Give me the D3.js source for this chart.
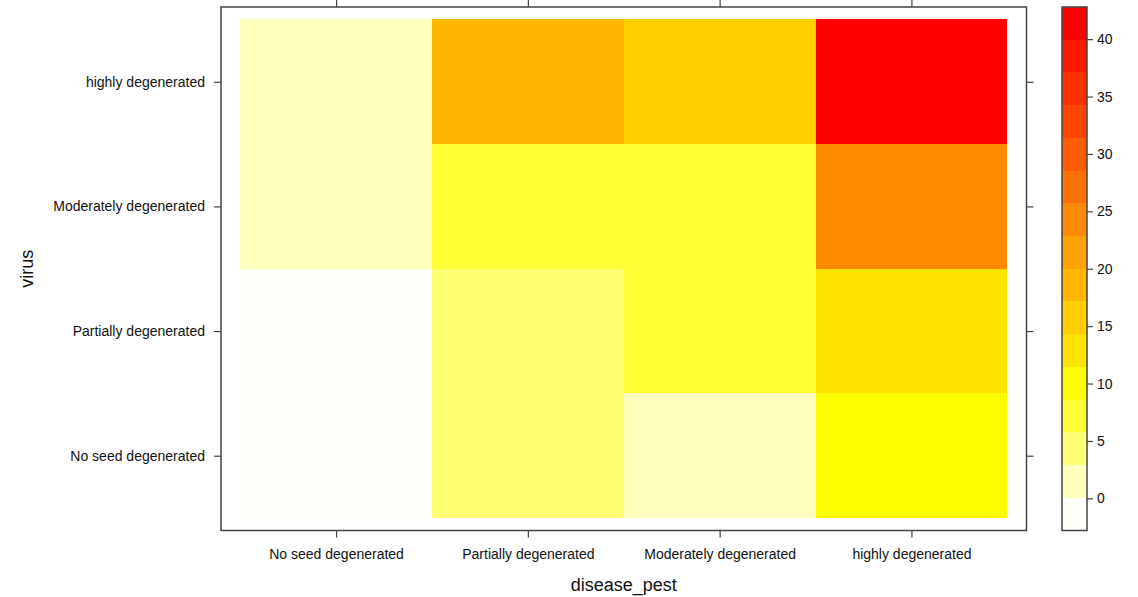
<!DOCTYPE html>
<html>
<head>
<meta charset="utf-8">
<script src="https://cdn.jsdelivr.net/npm/d3@7"></script>
<style>
  body { margin: 0; background: #fff; }
  text { font-family: "Liberation Sans", Arial, sans-serif; fill: #111; }
</style>
</head>
<body>
<svg class="heat" width="1138" height="597"></svg>
<script>
// categories (bottom to top for virus, left to right for disease_pest)
const diseaseLevels = ["No seed degenerated", "Partially degenerated", "Moderately degenerated", "highly degenerated"];
const virusLevels = ["No seed degenerated", "Partially degenerated", "Moderately degenerated", "highly degenerated"];

// values per virus row, columns follow diseaseLevels
const rowNoSeed = [0, 4, 2, 10];
const rowPartially = [0, 4, 7, 13];
const rowModerately = [2, 7, 7, 24];
const rowHighly = [2, 19, 16, 40];

const legendTicks = [0, 5, 10, 15, 20, 25, 30, 35, 40];

const svg = d3.select('.heat');

const rows = [rowNoSeed, rowPartially, rowModerately, rowHighly];
const cells = [];
rows.forEach(function(r, i) {
  r.forEach(function(v, j) {
    cells.push({ x: j + 1, y: i + 1, value: v });
  });
});

// breaks like lattice: extend range by 7% and cut into 16 bands
const zmin = d3.min(cells, d => d.value);
const zmax = d3.max(cells, d => d.value);
const ext = (zmax - zmin) * 0.07;
const lo = zmin - ext, hi = zmax + ext;
const nBands = 16;
const breaks = d3.range(nBands + 1).map(i => lo + i * (hi - lo) / nBands);

// rev(heat.colors(100)) sampled to 16 regions
function heatColors(n) {
  const j = Math.floor(n / 4), i = n - j;
  const out = [];
  for (let k = 0; k < i; k++) {
    const h = (i > 1 ? k / (i - 1) : 0); // 0..1 of the hue range 0..1/6
    out.push(d3.rgb(255, Math.round(h * 255), 0).formatHex());
  }
  for (let k = 0; k < j; k++) {
    const s = 1 - 1 / (2 * j) - k * ((1 - 1 / j) / (j - 1));
    out.push(d3.rgb(255, 255, Math.round((1 - s) * 255)).formatHex());
  }
  return out;
}
const palette = heatColors(100).reverse();
const bandColors = d3.range(nBands).map(function(k) {
  const idx = Math.floor(1 + k * (palette.length - 1) / (nBands - 1));
  return palette[idx - 1];
});
const colour = d3.scaleThreshold()
  .domain(breaks.slice(1, -1))
  .range(bandColors);

// panel scales
const x = d3.scaleLinear().domain([0.4, 4.6]).range([221, 1026.5]);
const y = d3.scaleLinear().domain([0.4, 4.6]).range([530.5, 7]);

const panel = svg.append('g');

panel.selectAll('rect.cell')
  .data(cells)
  .enter().append('rect')
    .attr('class', 'cell')
    .attr('x', d => x(d.x - 0.5))
    .attr('y', d => y(d.y + 0.5))
    .attr('width', d => x(d.x + 0.5) - x(d.x - 0.5))
    .attr('height', d => y(d.y - 0.5) - y(d.y + 0.5))
    .attr('fill', d => colour(d.value))
    .attr('shape-rendering', 'crispEdges');

// axes on all four sides, ticks pointing outwards
const tickLen = 7;
panel.append('g')
  .attr('transform', 'translate(0,' + y(0.4) + ')')
  .call(d3.axisBottom(x).tickValues([1, 2, 3, 4]).tickSize(tickLen).tickPadding(12)
    .tickFormat(d => diseaseLevels[d - 1]));
panel.append('g')
  .attr('transform', 'translate(0,' + y(4.6) + ')')
  .call(d3.axisTop(x).tickValues([1, 2, 3, 4]).tickSize(tickLen).tickFormat(''));
panel.append('g')
  .attr('transform', 'translate(' + x(0.4) + ',0)')
  .call(d3.axisLeft(y).tickValues([1, 2, 3, 4]).tickSize(tickLen).tickPadding(9)
    .tickFormat(d => virusLevels[d - 1]));
panel.append('g')
  .attr('transform', 'translate(' + x(4.6) + ',0)')
  .call(d3.axisRight(y).tickValues([1, 2, 3, 4]).tickSize(tickLen).tickFormat(''));

panel.selectAll('.domain').remove();
panel.selectAll('.tick line').attr('stroke', '#444').attr('stroke-width', 1.2);
panel.selectAll('.tick text')
  .style('font-family', '"Liberation Sans", Arial, sans-serif')
  .style('font-size', '14px')
  .attr('fill', '#111');

panel.append('rect')
  .attr('x', x(0.4))
  .attr('y', y(4.6))
  .attr('width', x(4.6) - x(0.4))
  .attr('height', y(0.4) - y(4.6))
  .attr('fill', 'none')
  .attr('stroke', '#444')
  .attr('stroke-width', 1.5);

// axis titles
svg.append('text')
  .text('disease_pest')
  .attr('x', x(2.5))
  .attr('y', 591)
  .attr('text-anchor', 'middle')
  .style('font-size', '18px');
svg.append('text')
  .text('virus')
  .attr('transform', 'translate(33,' + y(2.5) + ') rotate(-90)')
  .attr('text-anchor', 'middle')
  .style('font-size', '18px');

// colour key
const keyY = d3.scaleLinear().domain([lo, hi]).range([530.5, 7]);
const keyX0 = 1062, keyW = 25;
const key = svg.append('g');
key.selectAll('rect.band')
  .data(d3.range(nBands))
  .enter().append('rect')
    .attr('class', 'band')
    .attr('x', keyX0)
    .attr('y', k => keyY(breaks[k + 1]))
    .attr('width', keyW)
    .attr('height', k => keyY(breaks[k]) - keyY(breaks[k + 1]))
    .attr('fill', k => bandColors[k])
    .attr('shape-rendering', 'crispEdges');
key.append('rect')
  .attr('x', keyX0)
  .attr('y', keyY(hi))
  .attr('width', keyW)
  .attr('height', keyY(lo) - keyY(hi))
  .attr('fill', 'none')
  .attr('stroke', '#444')
  .attr('stroke-width', 1.5);
const keyAxis = key.append('g')
  .attr('transform', 'translate(' + (keyX0 + keyW) + ',0)')
  .call(d3.axisRight(keyY).tickValues(legendTicks).tickSize(6).tickPadding(4));
keyAxis.select('.domain').remove();
keyAxis.selectAll('.tick line').attr('stroke', '#444').attr('stroke-width', 1.2);
keyAxis.selectAll('.tick text')
  .style('font-family', '"Liberation Sans", Arial, sans-serif')
  .style('font-size', '14px')
  .attr('fill', '#111');
</script>
</body>
</html>
